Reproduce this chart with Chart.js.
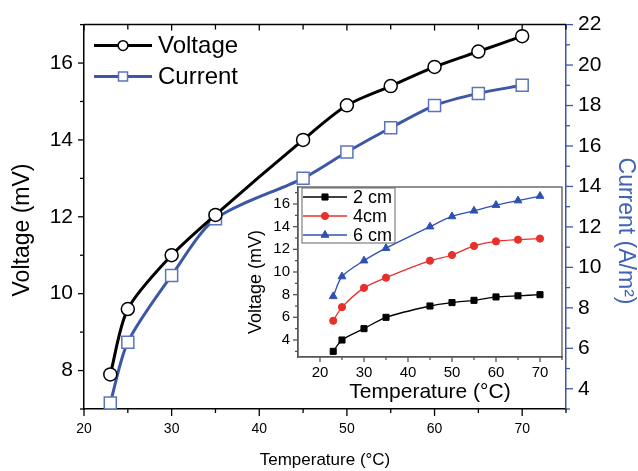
<!DOCTYPE html>
<html>
<head>
<meta charset="utf-8">
<script src="https://cdn.jsdelivr.net/npm/chart.js@4.4.1/dist/chart.umd.min.js"></script>
<style>
  body { margin: 0; background: #fff; }
  #wrap { position: relative; width: 638px; height: 471px; background: #fff; }
  #main { position: absolute; left: 0; top: 0; }
  #inset { position: absolute; left: 230px; top: 170px; }
</style>
</head>
<body>
<div id="wrap">
  <canvas id="main" width="638" height="471"></canvas>
  <canvas id="inset" width="340" height="235"></canvas>
</div>
<script>
// values
const temps = [23, 25, 30, 35, 45, 50, 55, 60, 65, 70];
const voltage = [7.9, 9.6, 11.0, 12.05, 14.0, 14.9, 15.4, 15.9, 16.3, 16.7];
const current = [3.3, 6.3, 9.6, 12.4, 14.4, 15.7, 16.9, 18.0, 18.6, 19.0];

// inset: voltage for different distances
const v2cm = [3.0, 4.0, 5.0, 6.0, 7.0, 7.3, 7.5, 7.8, 7.9, 8.0];
const v4cm = [5.7, 6.9, 8.6, 9.5, 11.0, 11.5, 12.3, 12.7, 12.85, 12.95];
const v6cm = [7.85, 9.6, 11.0, 12.1, 14.0, 14.9, 15.4, 15.9, 16.3, 16.7];

const xTicks = [20, 30, 40, 50, 60, 70];
const voltTicks = [8, 10, 12, 14, 16];
const currTicks = [4, 6, 8, 10, 12, 14, 16, 18, 20, 22];
const insetXTicks = [20, 30, 40, 50, 60, 70];
const insetYTicks = [4, 6, 8, 10, 12, 14, 16];

const FONT = '"Liberation Sans", Arial, sans-serif';
const BLUE = '#3b57a6';
const TITLE_BLUE = '#4262b4';

const pts = (ys) => temps.map((t, i) => ({ x: t, y: ys[i] }));
const setTicks = (vals) => (s) => { s.ticks = vals.map(v => ({ value: v })); };

// draws small tick marks along one side of the plot
function ticks(ctx, scale, from, to, step, majorEvery, side, majorLen, minorLen, color, a) {
  ctx.strokeStyle = color;
  ctx.lineWidth = 1.3;
  const n = Math.round((to - from) / step);
  for (let k = 0; k <= n; k++) {
    const v = from + k * step;
    const len = (Math.round(v / step) % majorEvery === 0) ? majorLen : minorLen;
    const p = scale.getPixelForValue(v);
    ctx.beginPath();
    if (side === 'bottom') { ctx.moveTo(p, a.bottom); ctx.lineTo(p, a.bottom + len); }
    if (side === 'top') { ctx.moveTo(p, a.top); ctx.lineTo(p, a.top + len); }
    if (side === 'left') { ctx.moveTo(a.left, p); ctx.lineTo(a.left - len, p); }
    if (side === 'right') { ctx.moveTo(a.right, p); ctx.lineTo(a.right + len, p); }
    ctx.stroke();
  }
}

// rotated axis title, centred on (x, y)
function vTitle(ctx, text, x, y, rot, size, color) {
  ctx.save();
  ctx.translate(x, y);
  ctx.rotate(rot);
  ctx.font = size + 'px ' + FONT;
  ctx.fillStyle = color;
  ctx.textAlign = 'center';
  ctx.textBaseline = 'middle';
  ctx.fillText(text, 0, 0);
  ctx.restore();
}

function legendRows(ctx, datasets, x0, y0, rowH, lineLen, fontSize, scale) {
  datasets.forEach((ds, i) => {
    const y = y0 + i * rowH;
    ctx.strokeStyle = ds.borderColor;
    ctx.lineWidth = ds.borderWidth;
    ctx.beginPath(); ctx.moveTo(x0, y); ctx.lineTo(x0 + lineLen, y); ctx.stroke();
    ctx.fillStyle = ds.pointBackgroundColor;
    ctx.strokeStyle = ds.pointBorderColor;
    ctx.lineWidth = ds.pointBorderWidth;
    Chart.helpers.drawPoint(ctx, {
      pointStyle: ds.pointStyle, radius: ds.pointRadius * scale,
      borderWidth: ds.pointBorderWidth, rotation: 0
    }, x0 + lineLen / 2, y);
    ctx.fillStyle = '#000';
    ctx.font = fontSize + 'px ' + FONT;
    ctx.textBaseline = 'middle';
    ctx.textAlign = 'left';
    ctx.fillText(ds.label, x0 + lineLen + 6, y + 1);
  });
}

const mainDeco = {
  id: 'mainDeco',
  afterDraw(chart) {
    const { ctx, chartArea: a, scales } = chart;
    ctx.save();
    ctx.strokeStyle = '#000';
    ctx.lineWidth = 1.5;
    ctx.beginPath(); ctx.moveTo(a.left, a.top); ctx.lineTo(a.right, a.top); ctx.stroke();
    ticks(ctx, scales.x, 20, 75, 5, 2, 'bottom', 7, 4, '#000', a);
    ticks(ctx, scales.x, 20, 75, 5, 2, 'top', 6, 5, '#000', a);
    ticks(ctx, scales.y, 7, 17, 1, 2, 'left', 6, 4, '#000', a);
    ticks(ctx, scales.y1, 3, 22, 1, 2, 'right', 7, 4, BLUE, a);
    legendRows(ctx, chart.data.datasets, a.left + 10, a.top + 21, 31, 58, 24, 0.75);
    vTitle(ctx, 'Voltage (mV)', 23, 230, -Math.PI / 2, 23, '#000');
    vTitle(ctx, 'Current (A/m²)', 625, 231, Math.PI / 2, 23, TITLE_BLUE);
    ctx.restore();
  }
};

const insetDeco = {
  id: 'insetDeco',
  beforeDraw(chart) {
    const { ctx, chartArea: a } = chart;
    ctx.save();
    ctx.fillStyle = '#fff';
    ctx.fillRect(a.left, a.top, a.right - a.left, a.bottom - a.top);
    ctx.restore();
  },
  afterDraw(chart) {
    const { ctx, chartArea: a, scales } = chart;
    ctx.save();
    ctx.strokeStyle = '#555';
    ctx.lineWidth = 1.3;
    ctx.strokeRect(a.left, a.top, a.right - a.left, a.bottom - a.top);
    ticks(ctx, scales.x, 20, 75, 5, 2, 'bottom', 5, 3, '#555', a);
    ticks(ctx, scales.y, 3, 17, 1, 2, 'left', 5, 3, '#555', a);
    // legend box
    ctx.fillStyle = '#fff';
    ctx.fillRect(a.left + 4, a.top + 1, 93, 55);
    ctx.strokeStyle = '#666';
    ctx.lineWidth = 1;
    ctx.strokeRect(a.left + 4, a.top + 1, 93, 55);
    legendRows(ctx, chart.data.datasets, a.left + 5, a.top + 10, 19, 44, 18, 1);
    vTitle(ctx, 'Voltage (mV)', 26, 112, -Math.PI / 2, 18, '#000');
    ctx.restore();
  }
};

new Chart(document.getElementById('main'), {
  type: 'line',
  data: {
    datasets: [
      {
        label: 'Voltage', data: pts(voltage), yAxisID: 'y',
        borderColor: '#000', borderWidth: 3,
        pointStyle: 'circle', pointRadius: 6.5, pointBackgroundColor: '#fff',
        pointBorderColor: '#000', pointBorderWidth: 1.5,
        tension: 0.28, clip: false
      },
      {
        label: 'Current', data: pts(current), yAxisID: 'y1',
        borderColor: BLUE, borderWidth: 3,
        pointStyle: 'rect', pointRadius: 8.5, pointBackgroundColor: '#fff',
        pointBorderColor: '#5b74bd', pointBorderWidth: 1.5,
        tension: 0.28, clip: false
      }
    ]
  },
  options: {
    responsive: false, animation: false, devicePixelRatio: 1,
    layout: { padding: { top: 19, left: 0, right: 0, bottom: 0 } },
    plugins: { legend: { display: false }, tooltip: { enabled: false } },
    scales: {
      x: {
        type: 'linear', min: 20, max: 75,
        afterBuildTicks: setTicks(xTicks),
        afterFit: (s) => { s.height = 62; },
        grid: { display: false, drawTicks: false },
        border: { color: '#000', width: 1.5 },
        ticks: { padding: 12, color: '#000', font: { family: FONT, size: 14 } },
        title: { display: true, text: 'Temperature (°C)', color: '#000',
                 font: { family: FONT, size: 17, lineHeight: 1 }, padding: { bottom: 2 } }
      },
      y: {
        position: 'left', min: 7, max: 17,
        afterBuildTicks: setTicks(voltTicks),
        afterFit: (s) => { s.width = 84; },
        grid: { display: false, drawTicks: false },
        border: { color: '#000', width: 1.5 },
        ticks: { padding: 11, color: '#000', font: { family: FONT, size: 21 } }
      },
      y1: {
        position: 'right', min: 3, max: 22,
        afterBuildTicks: setTicks(currTicks),
        afterFit: (s) => { s.width = 72; },
        grid: { display: false, drawTicks: false },
        border: { color: BLUE, width: 1.5 },
        ticks: { padding: 12, color: '#000', font: { family: FONT, size: 21 } }
      }
    }
  },
  plugins: [mainDeco]
});

new Chart(document.getElementById('inset'), {
  type: 'line',
  data: {
    datasets: [
      {
        label: '2 cm', data: pts(v2cm), borderColor: '#000', borderWidth: 1.3,
        pointStyle: 'rect', pointRadius: 4.3, pointBackgroundColor: '#000',
        pointBorderColor: '#000', pointBorderWidth: 1,
        tension: 0.28, clip: false
      },
      {
        label: '4cm', data: pts(v4cm), borderColor: '#e8302a', borderWidth: 1.3,
        pointStyle: 'circle', pointRadius: 3.6, pointBackgroundColor: '#e8302a',
        pointBorderColor: '#e8302a', pointBorderWidth: 1,
        tension: 0.28, clip: false
      },
      {
        label: '6 cm', data: pts(v6cm), borderColor: '#2f50b0', borderWidth: 1.3,
        pointStyle: 'triangle', pointRadius: 4.5, pointBackgroundColor: '#2f50b0',
        pointBorderColor: '#2f50b0', pointBorderWidth: 1,
        tension: 0.28, clip: false
      }
    ]
  },
  options: {
    responsive: false, animation: false, devicePixelRatio: 1,
    layout: { padding: { top: 11, left: 0, right: 8, bottom: 0 } },
    plugins: { legend: { display: false }, tooltip: { enabled: false } },
    scales: {
      x: {
        type: 'linear', min: 15, max: 75,
        afterBuildTicks: setTicks(insetXTicks),
        afterFit: (s) => { s.height = 48; },
        grid: { display: false, drawTicks: false },
        border: { color: '#555', width: 1.3 },
        ticks: { padding: 7, color: '#000', font: { family: FONT, size: 15 } },
        title: { display: true, text: 'Temperature (°C)', color: '#000',
                 font: { family: FONT, size: 21, lineHeight: 1 }, padding: { bottom: 2 } }
      },
      y: {
        min: 2.5, max: 17.5,
        afterBuildTicks: setTicks(insetYTicks),
        afterFit: (s) => { s.width = 68; },
        grid: { display: false, drawTicks: false },
        border: { color: '#555', width: 1.3 },
        ticks: { padding: 8, color: '#000', font: { family: FONT, size: 15 } }
      }
    }
  },
  plugins: [insetDeco]
});
</script>
</body>
</html>
